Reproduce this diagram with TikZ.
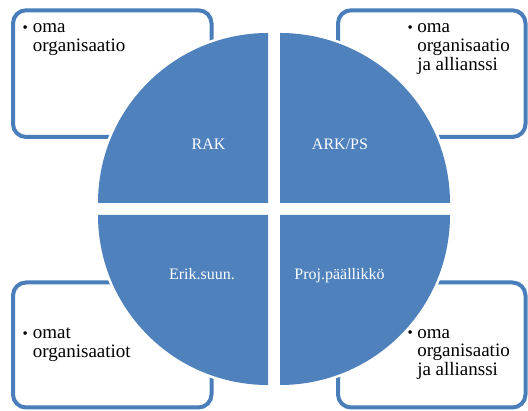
\documentclass[tikz,border=0pt]{standalone}
\usepackage{fontspec}
\setmainfont{Liberation Serif}
\definecolor{segblue}{HTML}{4F81BD}
\definecolor{frameblue}{HTML}{4A7EBB}
\newcommand\smallbullet{\raisebox{0.6pt}{\fontsize{15}{15}\selectfont\textbullet}}
\begin{document}
\begin{tikzpicture}[x=1pt,y=1pt,
  infobox/.style={draw=frameblue, line width=4pt, fill=white, rounded corners=13pt},
  bullettext/.style={anchor=base west, inner sep=0pt, font=\fontsize{19}{18.5}\selectfont},
  seglabel/.style={anchor=base, inner sep=0pt, text=white, font=\fontsize{16}{18}\selectfont},
  halo/.style={fill=white},
  segment/.style={fill=segblue}]
\useasboundingbox (0,0) rectangle (528,411);
\fill[white] (0,0) rectangle (528,411);

% corner boxes
\draw[infobox] (13,274) rectangle (211.5,400.7);
\draw[infobox] (338,274) rectangle (525.5,400.7);
\draw[infobox] (13,3.5) rectangle (211.5,128.5);
\draw[infobox] (338,3.5) rectangle (525.5,128.5);

% white halo around the four circle segments
\fill[halo] (268,208) -- ++(180:172.5) arc[start angle=180,end angle=90,radius=172.5] -- cycle;
\fill[halo] (280,208) -- ++(90:172.5) arc[start angle=90,end angle=0,radius=172.5] -- cycle;
\fill[halo] (268,196) -- ++(270:172.5) arc[start angle=270,end angle=180,radius=172.5] -- cycle;
\fill[halo] (280,196) -- ++(0:172.5) arc[start angle=0,end angle=-90,radius=172.5] -- cycle;

% the four circle segments
\fill[segment] (268,208) -- ++(180:170) arc[start angle=180,end angle=90,radius=170] -- cycle;
\fill[segment] (280,208) -- ++(90:170) arc[start angle=90,end angle=0,radius=170] -- cycle;
\fill[segment] (268,196) -- ++(270:170) arc[start angle=270,end angle=180,radius=170] -- cycle;
\fill[segment] (280,196) -- ++(0:170) arc[start angle=0,end angle=-90,radius=170] -- cycle;

% segment labels
\node[seglabel] (rak) at (208.5,261.7) {RAK};
\node[seglabel] (ark) at (340,261.7) {ARK/PS};
\node[seglabel] (erik) at (202,131) {Erik.suun.};
\node[seglabel] (proj) at (339.5,131) {Proj.päällikkö};

% box contents
\node[bullettext] (tltext) at (22.5,378) {\begin{tabular}[t]{@{}l@{\hspace{5pt}}l@{}}\smallbullet & oma\\ & organisaatio\end{tabular}};
\node[bullettext] (trtext) at (407.5,378) {\begin{tabular}[t]{@{}l@{\hspace{4.3pt}}l@{}}\smallbullet & oma\\ & organisaatio\\ & ja allianssi\end{tabular}};
\node[bullettext] (bltext) at (22.5,72) {\begin{tabular}[t]{@{}l@{\hspace{5pt}}l@{}}\smallbullet & omat\\ & organisaatiot\end{tabular}};
\node[bullettext] (brtext) at (407.5,72.7) {\begin{tabular}[t]{@{}l@{\hspace{4.3pt}}l@{}}\smallbullet & oma\\ & organisaatio\\ & ja allianssi\end{tabular}};
\end{tikzpicture}
\end{document}
